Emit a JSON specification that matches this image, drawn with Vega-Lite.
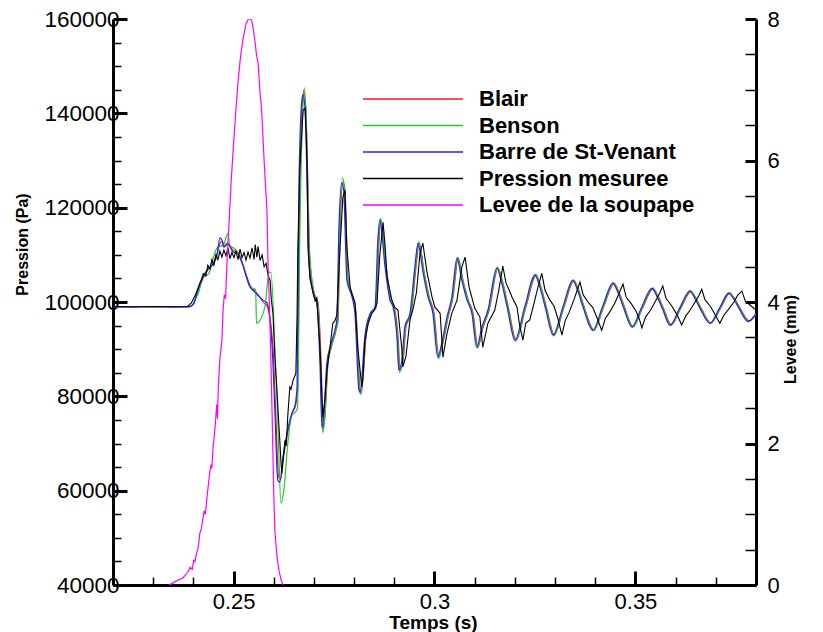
{
"$schema": "https://vega.github.io/schema/vega-lite/v6.json",
"width": 643, "height": 566,
"autosize": {"type": "none"},
"padding": {"left": 113, "top": 19, "right": 67, "bottom": 47},
"background": "white",
"config": {"view": {"stroke": null}, "font": "Liberation Sans"},
"datasets": {
"sim": [
{"s":"Blair","t":0.2200,"p":99000},{"s":"Blair","t":0.2390,"p":99000},{"s":"Blair","t":0.2400,"p":99500},{"s":"Blair","t":0.2411,"p":102300},{"s":"Blair","t":0.2424,"p":105000},{"s":"Blair","t":0.2436,"p":106800},{"s":"Blair","t":0.2449,"p":108200},{"s":"Blair","t":0.2459,"p":110300},{"s":"Blair","t":0.2466,"p":112400},{"s":"Blair","t":0.2471,"p":112900},{"s":"Blair","t":0.2478,"p":111800},{"s":"Blair","t":0.2486,"p":112200},{"s":"Blair","t":0.2499,"p":111000},{"s":"Blair","t":0.2511,"p":110500},{"s":"Blair","t":0.2521,"p":108600},{"s":"Blair","t":0.2533,"p":105400},{"s":"Blair","t":0.2541,"p":103500},{"s":"Blair","t":0.2553,"p":102400},{"s":"Blair","t":0.2566,"p":101000},{"s":"Blair","t":0.2573,"p":100000},{"s":"Blair","t":0.2583,"p":99200},{"s":"Blair","t":0.2598,"p":90400},{"s":"Blair","t":0.2605,"p":76400},{"s":"Blair","t":0.2612,"p":63000},{"s":"Blair","t":0.2617,"p":62400},{"s":"Blair","t":0.2625,"p":67400},{"s":"Blair","t":0.2635,"p":72500},{"s":"Blair","t":0.2647,"p":76600},{"s":"Blair","t":0.2655,"p":78300},{"s":"Blair","t":0.2660,"p":82000},{"s":"Blair","t":0.2665,"p":125900},{"s":"Blair","t":0.2672,"p":143000},{"s":"Blair","t":0.2675,"p":144800},{"s":"Blair","t":0.2680,"p":140700},{"s":"Blair","t":0.2685,"p":125000},{"s":"Blair","t":0.2690,"p":108500},{"s":"Blair","t":0.2700,"p":102100},{"s":"Blair","t":0.2710,"p":99900},{"s":"Blair","t":0.2718,"p":87000},{"s":"Blair","t":0.2723,"p":73000},{"s":"Blair","t":0.2728,"p":76400},{"s":"Blair","t":0.2735,"p":87000},{"s":"Blair","t":0.2743,"p":90400},{"s":"Blair","t":0.2755,"p":94000},{"s":"Blair","t":0.2760,"p":96200},{"s":"Blair","t":0.2765,"p":115200},{"s":"Blair","t":0.2772,"p":125500},{"s":"Blair","t":0.2777,"p":124000},{"s":"Blair","t":0.2785,"p":104600},{"s":"Blair","t":0.2798,"p":101000},{"s":"Blair","t":0.2805,"p":97600},{"s":"Blair","t":0.2815,"p":81300},{"s":"Blair","t":0.2818,"p":80700},{"s":"Blair","t":0.2830,"p":93000},{"s":"Blair","t":0.2843,"p":97600},{"s":"Blair","t":0.2855,"p":98900},{"s":"Blair","t":0.2862,"p":113000},{"s":"Blair","t":0.2867,"p":117300},{"s":"Blair","t":0.2880,"p":107400},{"s":"Blair","t":0.2892,"p":100400},{"s":"Blair","t":0.2900,"p":98900},{"s":"Blair","t":0.2910,"p":91900},{"s":"Blair","t":0.2914,"p":85600},{"s":"Blair","t":0.2922,"p":87700},{"s":"Blair","t":0.2929,"p":94700},{"s":"Blair","t":0.2942,"p":97600},{"s":"Blair","t":0.2954,"p":107400},{"s":"Blair","t":0.2962,"p":112400},{"s":"Blair","t":0.2974,"p":106500},{"s":"Blair","t":0.2987,"p":101000},{"s":"Blair","t":0.2999,"p":97600},{"s":"Blair","t":0.3011,"p":88400},{"s":"Blair","t":0.3021,"p":91300},{"s":"Blair","t":0.3034,"p":96800},{"s":"Blair","t":0.3046,"p":101000},{"s":"Blair","t":0.3059,"p":109200},{"s":"Blair","t":0.3071,"p":104600},{"s":"Blair","t":0.3084,"p":100400},{"s":"Blair","t":0.3096,"p":97600},{"s":"Blair","t":0.3108,"p":90500},{"s":"Blair","t":0.3121,"p":94700},{"s":"Blair","t":0.3136,"p":98300},{"s":"Blair","t":0.3158,"p":107100},{"s":"Blair","t":0.3170,"p":104100},{"s":"Blair","t":0.3184,"p":98800},{"s":"Blair","t":0.3203,"p":92000},{"s":"Blair","t":0.3227,"p":98800},{"s":"Blair","t":0.3253,"p":105600},{"s":"Blair","t":0.3265,"p":103200},{"s":"Blair","t":0.3279,"p":98700},{"s":"Blair","t":0.3298,"p":93100},{"s":"Blair","t":0.3322,"p":98800},{"s":"Blair","t":0.3347,"p":104500},{"s":"Blair","t":0.3359,"p":102500},{"s":"Blair","t":0.3373,"p":98800},{"s":"Blair","t":0.3397,"p":94100},{"s":"Blair","t":0.3421,"p":99000},{"s":"Blair","t":0.3447,"p":103900},{"s":"Blair","t":0.3459,"p":102100},{"s":"Blair","t":0.3473,"p":98900},{"s":"Blair","t":0.3494,"p":94800},{"s":"Blair","t":0.3518,"p":98800},{"s":"Blair","t":0.3544,"p":102800},{"s":"Blair","t":0.3556,"p":101300},{"s":"Blair","t":0.3570,"p":98600},{"s":"Blair","t":0.3589,"p":95200},{"s":"Blair","t":0.3613,"p":98700},{"s":"Blair","t":0.3638,"p":102200},{"s":"Blair","t":0.3650,"p":100900},{"s":"Blair","t":0.3664,"p":98600},{"s":"Blair","t":0.3688,"p":95600},{"s":"Blair","t":0.3712,"p":98700},{"s":"Blair","t":0.3735,"p":101800},{"s":"Blair","t":0.3747,"p":100700},{"s":"Blair","t":0.3761,"p":98600},{"s":"Blair","t":0.3783,"p":96000},{"s":"Blair","t":0.3800,"p":97300},
{"s":"Benson","t":0.2200,"p":99000},{"s":"Benson","t":0.2392,"p":99000},{"s":"Benson","t":0.2405,"p":100500},{"s":"Benson","t":0.2418,"p":103500},{"s":"Benson","t":0.2424,"p":106100},{"s":"Benson","t":0.2434,"p":105700},{"s":"Benson","t":0.2441,"p":106500},{"s":"Benson","t":0.2449,"p":109200},{"s":"Benson","t":0.2461,"p":111700},{"s":"Benson","t":0.2474,"p":112000},{"s":"Benson","t":0.2486,"p":114500},{"s":"Benson","t":0.2491,"p":111900},{"s":"Benson","t":0.2503,"p":111300},{"s":"Benson","t":0.2521,"p":108300},{"s":"Benson","t":0.2541,"p":103200},{"s":"Benson","t":0.2555,"p":102600},{"s":"Benson","t":0.2557,"p":95500},{"s":"Benson","t":0.2578,"p":98900},{"s":"Benson","t":0.2588,"p":106300},{"s":"Benson","t":0.2593,"p":106300},{"s":"Benson","t":0.2603,"p":90000},{"s":"Benson","t":0.2610,"p":75000},{"s":"Benson","t":0.2618,"p":57300},{"s":"Benson","t":0.2625,"p":60000},{"s":"Benson","t":0.2635,"p":70000},{"s":"Benson","t":0.2645,"p":76000},{"s":"Benson","t":0.2655,"p":76800},{"s":"Benson","t":0.2659,"p":77500},{"s":"Benson","t":0.2665,"p":115000},{"s":"Benson","t":0.2672,"p":140000},{"s":"Benson","t":0.2676,"p":145400},{"s":"Benson","t":0.2681,"p":138000},{"s":"Benson","t":0.2688,"p":112000},{"s":"Benson","t":0.2700,"p":102000},{"s":"Benson","t":0.2710,"p":99500},{"s":"Benson","t":0.2717,"p":85000},{"s":"Benson","t":0.2722,"p":72200},{"s":"Benson","t":0.2727,"p":75500},{"s":"Benson","t":0.2734,"p":86500},{"s":"Benson","t":0.2742,"p":90200},{"s":"Benson","t":0.2754,"p":93800},{"s":"Benson","t":0.2759,"p":96000},{"s":"Benson","t":0.2764,"p":115500},{"s":"Benson","t":0.2771,"p":126300},{"s":"Benson","t":0.2776,"p":124200},{"s":"Benson","t":0.2784,"p":104600},{"s":"Benson","t":0.2797,"p":101000},{"s":"Benson","t":0.2804,"p":97500},{"s":"Benson","t":0.2814,"p":81000},{"s":"Benson","t":0.2817,"p":80400},{"s":"Benson","t":0.2829,"p":93000},{"s":"Benson","t":0.2842,"p":97600},{"s":"Benson","t":0.2854,"p":98900},{"s":"Benson","t":0.2861,"p":113300},{"s":"Benson","t":0.2866,"p":117800},{"s":"Benson","t":0.2879,"p":107600},{"s":"Benson","t":0.2891,"p":100400},{"s":"Benson","t":0.2899,"p":98800},{"s":"Benson","t":0.2909,"p":91600},{"s":"Benson","t":0.2913,"p":85100},{"s":"Benson","t":0.2921,"p":87500},{"s":"Benson","t":0.2928,"p":94700},{"s":"Benson","t":0.2941,"p":97600},{"s":"Benson","t":0.2953,"p":107600},{"s":"Benson","t":0.2961,"p":112800},{"s":"Benson","t":0.2973,"p":106600},{"s":"Benson","t":0.2986,"p":101000},{"s":"Benson","t":0.2998,"p":97500},{"s":"Benson","t":0.3010,"p":88000},{"s":"Benson","t":0.3020,"p":91200},{"s":"Benson","t":0.3033,"p":96800},{"s":"Benson","t":0.3045,"p":101000},{"s":"Benson","t":0.3058,"p":109500},{"s":"Benson","t":0.3070,"p":104700},{"s":"Benson","t":0.3083,"p":100400},{"s":"Benson","t":0.3095,"p":97500},{"s":"Benson","t":0.3107,"p":90200},{"s":"Benson","t":0.3120,"p":94700},{"s":"Benson","t":0.3135,"p":98300},{"s":"Benson","t":0.3157,"p":107400},{"s":"Benson","t":0.3169,"p":104200},{"s":"Benson","t":0.3183,"p":98800},{"s":"Benson","t":0.3202,"p":91700},{"s":"Benson","t":0.3226,"p":98800},{"s":"Benson","t":0.3252,"p":105900},{"s":"Benson","t":0.3264,"p":103300},{"s":"Benson","t":0.3278,"p":98700},{"s":"Benson","t":0.3297,"p":92800},{"s":"Benson","t":0.3321,"p":98800},{"s":"Benson","t":0.3346,"p":104700},{"s":"Benson","t":0.3358,"p":102500},{"s":"Benson","t":0.3372,"p":98800},{"s":"Benson","t":0.3396,"p":93900},{"s":"Benson","t":0.3420,"p":99000},{"s":"Benson","t":0.3446,"p":104100},{"s":"Benson","t":0.3458,"p":102100},{"s":"Benson","t":0.3472,"p":98900},{"s":"Benson","t":0.3493,"p":94600},{"s":"Benson","t":0.3517,"p":98800},{"s":"Benson","t":0.3543,"p":103000},{"s":"Benson","t":0.3555,"p":101300},{"s":"Benson","t":0.3569,"p":98600},{"s":"Benson","t":0.3588,"p":95000},{"s":"Benson","t":0.3612,"p":98700},{"s":"Benson","t":0.3637,"p":102400},{"s":"Benson","t":0.3649,"p":100900},{"s":"Benson","t":0.3663,"p":98600},{"s":"Benson","t":0.3687,"p":95400},{"s":"Benson","t":0.3711,"p":98700},{"s":"Benson","t":0.3734,"p":102000},{"s":"Benson","t":0.3746,"p":100700},{"s":"Benson","t":0.3760,"p":98600},{"s":"Benson","t":0.3782,"p":95800},{"s":"Benson","t":0.3800,"p":97400},
{"s":"Barre de St-Venant","t":0.2200,"p":99000},{"s":"Barre de St-Venant","t":0.2390,"p":99000},{"s":"Barre de St-Venant","t":0.2400,"p":99600},{"s":"Barre de St-Venant","t":0.2411,"p":102500},{"s":"Barre de St-Venant","t":0.2424,"p":105300},{"s":"Barre de St-Venant","t":0.2436,"p":107000},{"s":"Barre de St-Venant","t":0.2449,"p":108000},{"s":"Barre de St-Venant","t":0.2459,"p":110000},{"s":"Barre de St-Venant","t":0.2466,"p":113600},{"s":"Barre de St-Venant","t":0.2471,"p":113200},{"s":"Barre de St-Venant","t":0.2476,"p":111600},{"s":"Barre de St-Venant","t":0.2484,"p":112500},{"s":"Barre de St-Venant","t":0.2499,"p":110600},{"s":"Barre de St-Venant","t":0.2511,"p":110200},{"s":"Barre de St-Venant","t":0.2521,"p":108300},{"s":"Barre de St-Venant","t":0.2533,"p":105100},{"s":"Barre de St-Venant","t":0.2541,"p":103200},{"s":"Barre de St-Venant","t":0.2553,"p":102100},{"s":"Barre de St-Venant","t":0.2573,"p":100400},{"s":"Barre de St-Venant","t":0.2583,"p":99800},{"s":"Barre de St-Venant","t":0.2596,"p":90400},{"s":"Barre de St-Venant","t":0.2603,"p":76400},{"s":"Barre de St-Venant","t":0.2610,"p":62200},{"s":"Barre de St-Venant","t":0.2615,"p":61800},{"s":"Barre de St-Venant","t":0.2623,"p":67100},{"s":"Barre de St-Venant","t":0.2633,"p":72200},{"s":"Barre de St-Venant","t":0.2645,"p":76400},{"s":"Barre de St-Venant","t":0.2653,"p":78100},{"s":"Barre de St-Venant","t":0.2658,"p":82000},{"s":"Barre de St-Venant","t":0.2663,"p":125900},{"s":"Barre de St-Venant","t":0.2670,"p":142800},{"s":"Barre de St-Venant","t":0.2673,"p":143900},{"s":"Barre de St-Venant","t":0.2678,"p":140700},{"s":"Barre de St-Venant","t":0.2683,"p":125000},{"s":"Barre de St-Venant","t":0.2688,"p":108200},{"s":"Barre de St-Venant","t":0.2698,"p":101900},{"s":"Barre de St-Venant","t":0.2707,"p":99800},{"s":"Barre de St-Venant","t":0.2715,"p":87000},{"s":"Barre de St-Venant","t":0.2720,"p":73300},{"s":"Barre de St-Venant","t":0.2725,"p":76400},{"s":"Barre de St-Venant","t":0.2732,"p":87000},{"s":"Barre de St-Venant","t":0.2740,"p":90400},{"s":"Barre de St-Venant","t":0.2752,"p":94000},{"s":"Barre de St-Venant","t":0.2757,"p":96200},{"s":"Barre de St-Venant","t":0.2762,"p":115200},{"s":"Barre de St-Venant","t":0.2769,"p":125200},{"s":"Barre de St-Venant","t":0.2774,"p":123700},{"s":"Barre de St-Venant","t":0.2782,"p":104600},{"s":"Barre de St-Venant","t":0.2795,"p":101000},{"s":"Barre de St-Venant","t":0.2802,"p":97600},{"s":"Barre de St-Venant","t":0.2812,"p":81300},{"s":"Barre de St-Venant","t":0.2815,"p":80900},{"s":"Barre de St-Venant","t":0.2827,"p":93000},{"s":"Barre de St-Venant","t":0.2840,"p":97600},{"s":"Barre de St-Venant","t":0.2852,"p":98900},{"s":"Barre de St-Venant","t":0.2859,"p":113000},{"s":"Barre de St-Venant","t":0.2864,"p":117400},{"s":"Barre de St-Venant","t":0.2877,"p":107400},{"s":"Barre de St-Venant","t":0.2889,"p":100400},{"s":"Barre de St-Venant","t":0.2897,"p":98900},{"s":"Barre de St-Venant","t":0.2907,"p":91900},{"s":"Barre de St-Venant","t":0.2911,"p":85550},{"s":"Barre de St-Venant","t":0.2919,"p":87700},{"s":"Barre de St-Venant","t":0.2926,"p":94700},{"s":"Barre de St-Venant","t":0.2939,"p":97600},{"s":"Barre de St-Venant","t":0.2951,"p":107400},{"s":"Barre de St-Venant","t":0.2959,"p":112500},{"s":"Barre de St-Venant","t":0.2971,"p":106500},{"s":"Barre de St-Venant","t":0.2984,"p":101000},{"s":"Barre de St-Venant","t":0.2996,"p":97600},{"s":"Barre de St-Venant","t":0.3008,"p":88300},{"s":"Barre de St-Venant","t":0.3018,"p":91300},{"s":"Barre de St-Venant","t":0.3031,"p":96800},{"s":"Barre de St-Venant","t":0.3043,"p":101000},{"s":"Barre de St-Venant","t":0.3056,"p":109300},{"s":"Barre de St-Venant","t":0.3068,"p":104600},{"s":"Barre de St-Venant","t":0.3081,"p":100400},{"s":"Barre de St-Venant","t":0.3093,"p":97600},{"s":"Barre de St-Venant","t":0.3105,"p":90400},{"s":"Barre de St-Venant","t":0.3118,"p":94700},{"s":"Barre de St-Venant","t":0.3133,"p":98300},{"s":"Barre de St-Venant","t":0.3155,"p":107200},{"s":"Barre de St-Venant","t":0.3167,"p":104100},{"s":"Barre de St-Venant","t":0.3181,"p":98800},{"s":"Barre de St-Venant","t":0.3200,"p":91900},{"s":"Barre de St-Venant","t":0.3224,"p":98800},{"s":"Barre de St-Venant","t":0.3250,"p":105700},{"s":"Barre de St-Venant","t":0.3262,"p":103200},{"s":"Barre de St-Venant","t":0.3276,"p":98700},{"s":"Barre de St-Venant","t":0.3295,"p":93000},{"s":"Barre de St-Venant","t":0.3319,"p":98800},{"s":"Barre de St-Venant","t":0.3344,"p":104600},{"s":"Barre de St-Venant","t":0.3356,"p":102500},{"s":"Barre de St-Venant","t":0.3370,"p":98800},{"s":"Barre de St-Venant","t":0.3394,"p":94000},{"s":"Barre de St-Venant","t":0.3418,"p":99000},{"s":"Barre de St-Venant","t":0.3444,"p":104000},{"s":"Barre de St-Venant","t":0.3456,"p":102100},{"s":"Barre de St-Venant","t":0.3470,"p":98900},{"s":"Barre de St-Venant","t":0.3491,"p":94700},{"s":"Barre de St-Venant","t":0.3515,"p":98800},{"s":"Barre de St-Venant","t":0.3541,"p":102900},{"s":"Barre de St-Venant","t":0.3553,"p":101300},{"s":"Barre de St-Venant","t":0.3567,"p":98600},{"s":"Barre de St-Venant","t":0.3586,"p":95100},{"s":"Barre de St-Venant","t":0.3610,"p":98700},{"s":"Barre de St-Venant","t":0.3635,"p":102300},{"s":"Barre de St-Venant","t":0.3647,"p":100900},{"s":"Barre de St-Venant","t":0.3661,"p":98600},{"s":"Barre de St-Venant","t":0.3685,"p":95500},{"s":"Barre de St-Venant","t":0.3709,"p":98700},{"s":"Barre de St-Venant","t":0.3732,"p":101900},{"s":"Barre de St-Venant","t":0.3744,"p":100700},{"s":"Barre de St-Venant","t":0.3758,"p":98600},{"s":"Barre de St-Venant","t":0.3780,"p":95900},{"s":"Barre de St-Venant","t":0.3800,"p":97600}
],
"meas": [
{"s":"Pression mesuree","t":0.2200,"p":99000},{"s":"Pression mesuree","t":0.2250,"p":98950},{"s":"Pression mesuree","t":0.2300,"p":99050},{"s":"Pression mesuree","t":0.2350,"p":98950},{"s":"Pression mesuree","t":0.2385,"p":99000},{"s":"Pression mesuree","t":0.2395,"p":99800},{"s":"Pression mesuree","t":0.2405,"p":101500},{"s":"Pression mesuree","t":0.2416,"p":104000},{"s":"Pression mesuree","t":0.2426,"p":106000},{"s":"Pression mesuree","t":0.2431,"p":105500},{"s":"Pression mesuree","t":0.2436,"p":107800},{"s":"Pression mesuree","t":0.2441,"p":107000},{"s":"Pression mesuree","t":0.2446,"p":109000},{"s":"Pression mesuree","t":0.2451,"p":107800},{"s":"Pression mesuree","t":0.2456,"p":110000},{"s":"Pression mesuree","t":0.2461,"p":109000},{"s":"Pression mesuree","t":0.2466,"p":110800},{"s":"Pression mesuree","t":0.2471,"p":109500},{"s":"Pression mesuree","t":0.2476,"p":111000},{"s":"Pression mesuree","t":0.2481,"p":109800},{"s":"Pression mesuree","t":0.2486,"p":111500},{"s":"Pression mesuree","t":0.2491,"p":109200},{"s":"Pression mesuree","t":0.2496,"p":110500},{"s":"Pression mesuree","t":0.2501,"p":109400},{"s":"Pression mesuree","t":0.2506,"p":110800},{"s":"Pression mesuree","t":0.2511,"p":109000},{"s":"Pression mesuree","t":0.2516,"p":111200},{"s":"Pression mesuree","t":0.2521,"p":109400},{"s":"Pression mesuree","t":0.2526,"p":110500},{"s":"Pression mesuree","t":0.2531,"p":108900},{"s":"Pression mesuree","t":0.2536,"p":110600},{"s":"Pression mesuree","t":0.2541,"p":109300},{"s":"Pression mesuree","t":0.2546,"p":111500},{"s":"Pression mesuree","t":0.2551,"p":109000},{"s":"Pression mesuree","t":0.2554,"p":112200},{"s":"Pression mesuree","t":0.2558,"p":109500},{"s":"Pression mesuree","t":0.2561,"p":111800},{"s":"Pression mesuree","t":0.2566,"p":108800},{"s":"Pression mesuree","t":0.2571,"p":110000},{"s":"Pression mesuree","t":0.2576,"p":107500},{"s":"Pression mesuree","t":0.2581,"p":108200},{"s":"Pression mesuree","t":0.2586,"p":105600},{"s":"Pression mesuree","t":0.2591,"p":104600},{"s":"Pression mesuree","t":0.2594,"p":100500},{"s":"Pression mesuree","t":0.2598,"p":97600},{"s":"Pression mesuree","t":0.2603,"p":88000},{"s":"Pression mesuree","t":0.2608,"p":81300},{"s":"Pression mesuree","t":0.2612,"p":75000},{"s":"Pression mesuree","t":0.2615,"p":70700},{"s":"Pression mesuree","t":0.2618,"p":66000},{"s":"Pression mesuree","t":0.2620,"p":63700},{"s":"Pression mesuree","t":0.2623,"p":66500},{"s":"Pression mesuree","t":0.2628,"p":70700},{"s":"Pression mesuree","t":0.2631,"p":69500},{"s":"Pression mesuree","t":0.2635,"p":76000},{"s":"Pression mesuree","t":0.2640,"p":82000},{"s":"Pression mesuree","t":0.2643,"p":81500},{"s":"Pression mesuree","t":0.2648,"p":83400},{"s":"Pression mesuree","t":0.2652,"p":84200},{"s":"Pression mesuree","t":0.2655,"p":84900},{"s":"Pression mesuree","t":0.2658,"p":97000},{"s":"Pression mesuree","t":0.2660,"p":111600},{"s":"Pression mesuree","t":0.2665,"p":128600},{"s":"Pression mesuree","t":0.2673,"p":140700},{"s":"Pression mesuree","t":0.2678,"p":141100},{"s":"Pression mesuree","t":0.2681,"p":135000},{"s":"Pression mesuree","t":0.2683,"p":129500},{"s":"Pression mesuree","t":0.2685,"p":111600},{"s":"Pression mesuree","t":0.2690,"p":105000},{"s":"Pression mesuree","t":0.2698,"p":101900},{"s":"Pression mesuree","t":0.2703,"p":100200},{"s":"Pression mesuree","t":0.2707,"p":100800},{"s":"Pression mesuree","t":0.2715,"p":90400},{"s":"Pression mesuree","t":0.2722,"p":75600},{"s":"Pression mesuree","t":0.2727,"p":79200},{"s":"Pression mesuree","t":0.2733,"p":86000},{"s":"Pression mesuree","t":0.2740,"p":90400},{"s":"Pression mesuree","t":0.2747,"p":95500},{"s":"Pression mesuree","t":0.2752,"p":96000},{"s":"Pression mesuree","t":0.2757,"p":97200},{"s":"Pression mesuree","t":0.2765,"p":111600},{"s":"Pression mesuree","t":0.2772,"p":122200},{"s":"Pression mesuree","t":0.2777,"p":123700},{"s":"Pression mesuree","t":0.2782,"p":111600},{"s":"Pression mesuree","t":0.2790,"p":103200},{"s":"Pression mesuree","t":0.2795,"p":101500},{"s":"Pression mesuree","t":0.2802,"p":100000},{"s":"Pression mesuree","t":0.2809,"p":90400},{"s":"Pression mesuree","t":0.2819,"p":82000},{"s":"Pression mesuree","t":0.2822,"p":84000},{"s":"Pression mesuree","t":0.2827,"p":91900},{"s":"Pression mesuree","t":0.2835,"p":95500},{"s":"Pression mesuree","t":0.2844,"p":97600},{"s":"Pression mesuree","t":0.2850,"p":98200},{"s":"Pression mesuree","t":0.2857,"p":99800},{"s":"Pression mesuree","t":0.2864,"p":110000},{"s":"Pression mesuree","t":0.2872,"p":116900},{"s":"Pression mesuree","t":0.2877,"p":112000},{"s":"Pression mesuree","t":0.2882,"p":105300},{"s":"Pression mesuree","t":0.2894,"p":100400},{"s":"Pression mesuree","t":0.2901,"p":98900},{"s":"Pression mesuree","t":0.2909,"p":98300},{"s":"Pression mesuree","t":0.2919,"p":89800},{"s":"Pression mesuree","t":0.2921,"p":86200},{"s":"Pression mesuree","t":0.2929,"p":88500},{"s":"Pression mesuree","t":0.2939,"p":96200},{"s":"Pression mesuree","t":0.2946,"p":98300},{"s":"Pression mesuree","t":0.2955,"p":102000},{"s":"Pression mesuree","t":0.2964,"p":110400},{"s":"Pression mesuree","t":0.2971,"p":112500},{"s":"Pression mesuree","t":0.2981,"p":106500},{"s":"Pression mesuree","t":0.2994,"p":101000},{"s":"Pression mesuree","t":0.3001,"p":98900},{"s":"Pression mesuree","t":0.3014,"p":97600},{"s":"Pression mesuree","t":0.3021,"p":88300},{"s":"Pression mesuree","t":0.3031,"p":93300},{"s":"Pression mesuree","t":0.3043,"p":97600},{"s":"Pression mesuree","t":0.3056,"p":100400},{"s":"Pression mesuree","t":0.3068,"p":107400},{"s":"Pression mesuree","t":0.3076,"p":109500},{"s":"Pression mesuree","t":0.3086,"p":103200},{"s":"Pression mesuree","t":0.3100,"p":98700},{"s":"Pression mesuree","t":0.3113,"p":96800},{"s":"Pression mesuree","t":0.3120,"p":90400},{"s":"Pression mesuree","t":0.3133,"p":95500},{"s":"Pression mesuree","t":0.3150,"p":98300},{"s":"Pression mesuree","t":0.3160,"p":102500},{"s":"Pression mesuree","t":0.3170,"p":107600},{"s":"Pression mesuree","t":0.3178,"p":104000},{"s":"Pression mesuree","t":0.3186,"p":102500},{"s":"Pression mesuree","t":0.3193,"p":101000},{"s":"Pression mesuree","t":0.3205,"p":99000},{"s":"Pression mesuree","t":0.3212,"p":95000},{"s":"Pression mesuree","t":0.3220,"p":91900},{"s":"Pression mesuree","t":0.3227,"p":95500},{"s":"Pression mesuree","t":0.3237,"p":96200},{"s":"Pression mesuree","t":0.3247,"p":99500},{"s":"Pression mesuree","t":0.3257,"p":103000},{"s":"Pression mesuree","t":0.3267,"p":106100},{"s":"Pression mesuree","t":0.3275,"p":102500},{"s":"Pression mesuree","t":0.3287,"p":100400},{"s":"Pression mesuree","t":0.3297,"p":99200},{"s":"Pression mesuree","t":0.3307,"p":96500},{"s":"Pression mesuree","t":0.3317,"p":93000},{"s":"Pression mesuree","t":0.3325,"p":96000},{"s":"Pression mesuree","t":0.3335,"p":97800},{"s":"Pression mesuree","t":0.3347,"p":100500},{"s":"Pression mesuree","t":0.3355,"p":102500},{"s":"Pression mesuree","t":0.3362,"p":104200},{"s":"Pression mesuree","t":0.3370,"p":101500},{"s":"Pression mesuree","t":0.3382,"p":100000},{"s":"Pression mesuree","t":0.3394,"p":98800},{"s":"Pression mesuree","t":0.3405,"p":96500},{"s":"Pression mesuree","t":0.3416,"p":94000},{"s":"Pression mesuree","t":0.3425,"p":96500},{"s":"Pression mesuree","t":0.3437,"p":98000},{"s":"Pression mesuree","t":0.3450,"p":100000},{"s":"Pression mesuree","t":0.3460,"p":102000},{"s":"Pression mesuree","t":0.3469,"p":103800},{"s":"Pression mesuree","t":0.3477,"p":101000},{"s":"Pression mesuree","t":0.3490,"p":99600},{"s":"Pression mesuree","t":0.3502,"p":98000},{"s":"Pression mesuree","t":0.3510,"p":96300},{"s":"Pression mesuree","t":0.3516,"p":94500},{"s":"Pression mesuree","t":0.3525,"p":96800},{"s":"Pression mesuree","t":0.3537,"p":98200},{"s":"Pression mesuree","t":0.3550,"p":100200},{"s":"Pression mesuree","t":0.3560,"p":101800},{"s":"Pression mesuree","t":0.3568,"p":103400},{"s":"Pression mesuree","t":0.3576,"p":100800},{"s":"Pression mesuree","t":0.3590,"p":99200},{"s":"Pression mesuree","t":0.3600,"p":97800},{"s":"Pression mesuree","t":0.3608,"p":96500},{"s":"Pression mesuree","t":0.3615,"p":95100},{"s":"Pression mesuree","t":0.3625,"p":97000},{"s":"Pression mesuree","t":0.3637,"p":98400},{"s":"Pression mesuree","t":0.3650,"p":100200},{"s":"Pression mesuree","t":0.3658,"p":101400},{"s":"Pression mesuree","t":0.3665,"p":102700},{"s":"Pression mesuree","t":0.3673,"p":100500},{"s":"Pression mesuree","t":0.3687,"p":99000},{"s":"Pression mesuree","t":0.3697,"p":97500},{"s":"Pression mesuree","t":0.3704,"p":96400},{"s":"Pression mesuree","t":0.3710,"p":95500},{"s":"Pression mesuree","t":0.3720,"p":97200},{"s":"Pression mesuree","t":0.3732,"p":98500},{"s":"Pression mesuree","t":0.3745,"p":100000},{"s":"Pression mesuree","t":0.3755,"p":101500},{"s":"Pression mesuree","t":0.3765,"p":102300},{"s":"Pression mesuree","t":0.3773,"p":100300},{"s":"Pression mesuree","t":0.3787,"p":99200},{"s":"Pression mesuree","t":0.3800,"p":98300}
],
"lift": [
{"s":"Levee de la soupape","t":0.2340,"l":0},{"s":"Levee de la soupape","t":0.2349,"l":0.03},{"s":"Levee de la soupape","t":0.2362,"l":0.07},{"s":"Levee de la soupape","t":0.2374,"l":0.1},{"s":"Levee de la soupape","t":0.2386,"l":0.18},{"s":"Levee de la soupape","t":0.2392,"l":0.25},{"s":"Levee de la soupape","t":0.2397,"l":0.22},{"s":"Levee de la soupape","t":0.2401,"l":0.35},{"s":"Levee de la soupape","t":0.2404,"l":0.33},{"s":"Levee de la soupape","t":0.2408,"l":0.45},{"s":"Levee de la soupape","t":0.2411,"l":0.5},{"s":"Levee de la soupape","t":0.2414,"l":0.62},{"s":"Levee de la soupape","t":0.2416,"l":0.73},{"s":"Levee de la soupape","t":0.2420,"l":0.8},{"s":"Levee de la soupape","t":0.2424,"l":0.95},{"s":"Levee de la soupape","t":0.2427,"l":1.05},{"s":"Levee de la soupape","t":0.2430,"l":1.0},{"s":"Levee de la soupape","t":0.2434,"l":1.25},{"s":"Levee de la soupape","t":0.2437,"l":1.4},{"s":"Levee de la soupape","t":0.2441,"l":1.6},{"s":"Levee de la soupape","t":0.2444,"l":1.7},{"s":"Levee de la soupape","t":0.2446,"l":1.65},{"s":"Levee de la soupape","t":0.2449,"l":1.95},{"s":"Levee de la soupape","t":0.2452,"l":2.1},{"s":"Levee de la soupape","t":0.2455,"l":2.3},{"s":"Levee de la soupape","t":0.2458,"l":2.55},{"s":"Levee de la soupape","t":0.2460,"l":2.35},{"s":"Levee de la soupape","t":0.2462,"l":2.8},{"s":"Levee de la soupape","t":0.2466,"l":3.2},{"s":"Levee de la soupape","t":0.2469,"l":3.35},{"s":"Levee de la soupape","t":0.2471,"l":3.45},{"s":"Levee de la soupape","t":0.2474,"l":3.9},{"s":"Levee de la soupape","t":0.2477,"l":4.1},{"s":"Levee de la soupape","t":0.2480,"l":4.05},{"s":"Levee de la soupape","t":0.2484,"l":4.6},{"s":"Levee de la soupape","t":0.2489,"l":5.15},{"s":"Levee de la soupape","t":0.2494,"l":5.7},{"s":"Levee de la soupape","t":0.2499,"l":6.15},{"s":"Levee de la soupape","t":0.2505,"l":6.65},{"s":"Levee de la soupape","t":0.2511,"l":7.1},{"s":"Levee de la soupape","t":0.2517,"l":7.45},{"s":"Levee de la soupape","t":0.2523,"l":7.7},{"s":"Levee de la soupape","t":0.2531,"l":7.93},{"s":"Levee de la soupape","t":0.2537,"l":8.0},{"s":"Levee de la soupape","t":0.2541,"l":8.0},{"s":"Levee de la soupape","t":0.2545,"l":7.98},{"s":"Levee de la soupape","t":0.2548,"l":7.9},{"s":"Levee de la soupape","t":0.2553,"l":7.7},{"s":"Levee de la soupape","t":0.2557,"l":7.5},{"s":"Levee de la soupape","t":0.2561,"l":7.38},{"s":"Levee de la soupape","t":0.2566,"l":6.95},{"s":"Levee de la soupape","t":0.2570,"l":6.7},{"s":"Levee de la soupape","t":0.2573,"l":6.35},{"s":"Levee de la soupape","t":0.2576,"l":6.0},{"s":"Levee de la soupape","t":0.2580,"l":5.6},{"s":"Levee de la soupape","t":0.2583,"l":5.3},{"s":"Levee de la soupape","t":0.2586,"l":4.5},{"s":"Levee de la soupape","t":0.2589,"l":4.0},{"s":"Levee de la soupape","t":0.2592,"l":3.4},{"s":"Levee de la soupape","t":0.2596,"l":2.4},{"s":"Levee de la soupape","t":0.2600,"l":1.3},{"s":"Levee de la soupape","t":0.2603,"l":0.75},{"s":"Levee de la soupape","t":0.2608,"l":0.4},{"s":"Levee de la soupape","t":0.2613,"l":0.2},{"s":"Levee de la soupape","t":0.2618,"l":0.08},{"s":"Levee de la soupape","t":0.2623,"l":0.0}
]
},
"layer": [
{
"data": {"name": "sim"},
"mark": {"type": "line", "interpolate": "monotone", "strokeWidth": 1.2, "clip": true},
"encoding": {
"x": {"field": "t", "type": "quantitative", "scale": {"domain": [0.22, 0.38], "nice": false, "zero": false},
 "axis": {"title": "Temps (s)", "values": [0.23,0.24,0.25,0.26,0.27,0.28,0.29,0.3,0.31,0.32,0.33,0.34,0.35,0.36,0.37],
  "labelExpr": "round(datum.value*100) % 5 === 0 ? toString(round(datum.value*100)/100) : ''",
  "tickSize": {"condition": {"test": "round(datum.value*100) % 5 === 0", "value": -14}, "value": -8},
  "tickWidth": {"condition": {"test": "round(datum.value*100) % 5 === 0", "value": 3}, "value": 1.5},
  "tickColor": "black", "domainColor": "black", "domainWidth": 3, "grid": false,
  "labelFontSize": 22, "labelColor": "black", "labelPadding": 20, "labelFlush": false, "labelOverlap": false,
  "titleFontSize": 19, "titleFontWeight": "bold", "titleColor": "black", "titleX": 320, "titleY": 37, "titleBaseline": "middle"}},
"y": {"field": "p", "type": "quantitative", "scale": {"domain": [40000, 160000], "nice": false, "zero": false},
 "axis": {"title": "Pression (Pa)", "orient": "left", "values": [40000,45000,50000,55000,60000,65000,70000,75000,80000,85000,90000,95000,100000,105000,110000,115000,120000,125000,130000,135000,140000,145000,150000,155000,160000],
  "labelExpr": "datum.value % 20000 === 0 ? format(datum.value, 'd') : ''",
  "tickSize": {"condition": {"test": "datum.value % 20000 === 0", "value": -14}, "value": -8},
  "tickWidth": {"condition": {"test": "datum.value % 20000 === 0", "value": 3}, "value": 1.5},
  "tickColor": "black", "domainColor": "black", "domainWidth": 3, "grid": false,
  "labelFontSize": 22.5, "labelColor": "black", "labelPadding": 8, "labelFlush": false, "labelOverlap": false,
  "titleFontSize": 16, "titleFontWeight": "bold", "titleColor": "black", "titleAngle": 270, "titleX": -91, "titleY": 225, "titleBaseline": "middle", "titleAlign": "center"}},
"color": {"field": "s", "type": "nominal",
 "scale": {"domain": ["Blair", "Benson", "Barre de St-Venant", "Pression mesuree", "Levee de la soupape"], "range": ["#ee1c1c", "#22cc22", "#2222ff", "#000000", "#ff00ff"]},
 "legend": {"orient": "none", "legendX": 289, "legendY": 69, "title": null, "symbolType": "M-10,0L10,0", "symbolSize": 100, "symbolStrokeWidth": 1.5,
  "labelFontSize": 22, "labelFontWeight": "bold", "labelFont": "Liberation Sans", "labelColor": "black", "labelOffset": 55, "rowPadding": 4.5, "labelLimit": 400}}
}
},
{
"data": {"name": "meas"},
"mark": {"type": "line", "strokeWidth": 1.1, "clip": true},
"encoding": {
"x": {"field": "t", "type": "quantitative", "scale": {"domain": [0.22, 0.38], "nice": false, "zero": false}},
"y": {"field": "p", "type": "quantitative", "scale": {"domain": [40000, 160000], "nice": false, "zero": false}, "axis": null},
"color": {"field": "s", "type": "nominal"}
}
},
{
"data": {"name": "lift"},
"mark": {"type": "line", "strokeWidth": 1.2, "clip": true},
"encoding": {
"x": {"field": "t", "type": "quantitative", "scale": {"domain": [0.22, 0.38], "nice": false, "zero": false}},
"y": {"field": "l", "type": "quantitative", "scale": {"domain": [0, 8], "nice": false, "zero": false},
 "axis": {"title": "Levee (mm)", "orient": "right", "values": [0,0.5,1,1.5,2,2.5,3,3.5,4,4.5,5,5.5,6,6.5,7,7.5,8],
  "labelExpr": "datum.value % 2 === 0 ? format(datum.value, 'd') : ''",
  "tickSize": -11,
  "tickWidth": {"condition": {"test": "datum.value % 2 === 0", "value": 3}, "value": 1.5},
  "tickColor": "black", "domainColor": "black", "domainWidth": 3, "grid": false,
  "labelFontSize": 22, "labelColor": "black", "labelPadding": 22, "labelAlign": "left", "labelFlush": false, "labelOverlap": false,
  "titleFontSize": 16, "titleFontWeight": "bold", "titleColor": "black", "titleAngle": 270, "titleX": 34, "titleY": 320, "titleBaseline": "middle", "titleAlign": "center"}},
"color": {"field": "s", "type": "nominal"}
}
}
],
"resolve": {"scale": {"y": "independent"}, "axis": {"y": "independent"}}
}
